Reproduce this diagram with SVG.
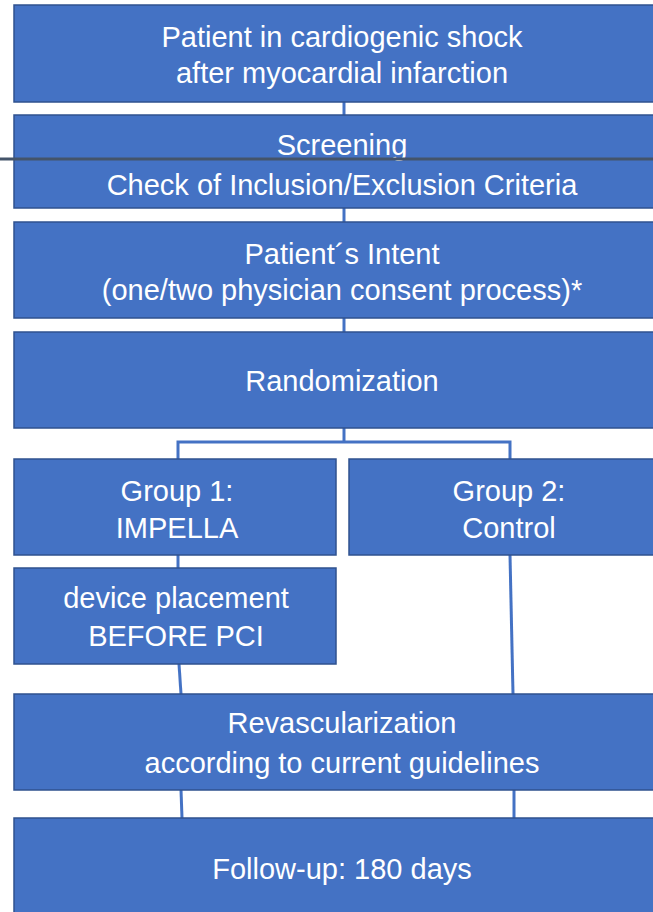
<svg xmlns="http://www.w3.org/2000/svg" width="653" height="912" viewBox="0 0 653 912">
<style>
.box{fill:#4472C4;stroke:#2F528F;stroke-width:1.5}
.t{font-family:"Liberation Sans",Arial,sans-serif;font-size:29px;fill:#fff;text-anchor:middle}
.c{stroke:#4472C4;stroke-width:3;fill:none}
</style>
<rect width="653" height="912" fill="#fff"/>
<g id="connectors">
<line class="c" x1="344" y1="102" x2="344" y2="115"/>
<line class="c" x1="344" y1="208" x2="344" y2="222"/>
<line class="c" x1="344" y1="318" x2="344" y2="332"/>
<polyline class="c" points="344,428 344,442"/>
<polyline class="c" points="178,459 178,442 510,442 510,459"/>
<line class="c" x1="178" y1="555" x2="178" y2="568"/>
<line class="c" x1="179" y1="664" x2="181" y2="694"/>
<line class="c" x1="510" y1="555" x2="513" y2="694"/>
<line class="c" x1="181" y1="790" x2="182" y2="818"/>
<line class="c" x1="514" y1="790" x2="514" y2="818"/>
</g>
<g id="n1"><rect class="box" x="14" y="5" width="660" height="97"/>
<text class="t" x="342" y="47">Patient in cardiogenic shock</text>
<text class="t" x="342" y="83">after myocardial infarction</text></g>
<g id="n2"><rect class="box" x="14" y="115" width="660" height="93"/>
<text class="t" x="342" y="155">Screening</text>
<text class="t" x="342" y="195">Check of Inclusion/Exclusion Criteria</text></g>
<line id="divider" x1="0" y1="159" x2="653" y2="159" stroke="#44546A" stroke-width="3"/>
<g id="n3"><rect class="box" x="14" y="222" width="660" height="96"/>
<text class="t" x="342" y="264">Patient´s Intent</text>
<text class="t" x="342" y="300">(one/two physician consent process)*</text></g>
<g id="n4"><rect class="box" x="14" y="332" width="660" height="96"/>
<text class="t" x="342" y="391">Randomization</text></g>
<g id="n5"><rect class="box" x="14" y="459" width="322" height="96"/>
<text class="t" x="177" y="501">Group 1:</text>
<text class="t" x="177" y="538">IMPELLA</text></g>
<g id="n6"><rect class="box" x="349" y="459" width="325" height="96"/>
<text class="t" x="509" y="501">Group 2:</text>
<text class="t" x="509" y="538">Control</text></g>
<g id="n7"><rect class="box" x="14" y="568" width="322" height="96"/>
<text class="t" x="176" y="608">device placement</text>
<text class="t" x="176" y="646">BEFORE PCI</text></g>
<g id="n8"><rect class="box" x="14" y="694" width="660" height="96"/>
<text class="t" x="342" y="733">Revascularization</text>
<text class="t" x="342" y="773">according to current guidelines</text></g>
<g id="n9"><rect class="box" x="14" y="818" width="660" height="100"/>
<text class="t" x="342" y="879">Follow-up: 180 days</text></g>
</svg>
